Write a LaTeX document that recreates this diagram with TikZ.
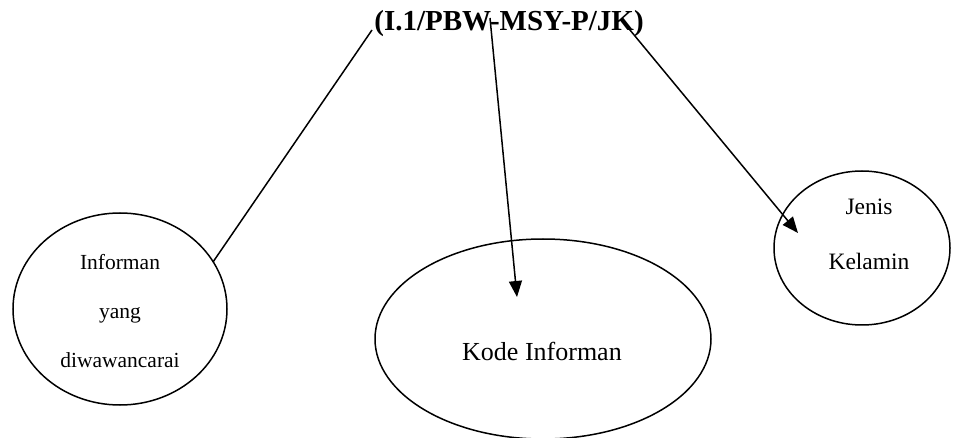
\documentclass[tikz,border=0pt]{standalone}
\usepackage{fontspec}
\setmainfont{Liberation Serif}
\usetikzlibrary{arrows.meta,shapes.geometric}
\begin{document}
\begin{tikzpicture}[x=1pt,y=-1pt,
  bubble/.style={draw,ellipse,line width=1.5pt,inner sep=0pt},
  link/.style={line width=1.5pt},
  pointer/.style={line width=1.5pt,-{Triangle[length=16pt,width=13pt]}}]
\useasboundingbox (0,0) rectangle (959,438);

% code label
\node[font=\fontsize{29}{34}\selectfont\bfseries] (code) at (509,24) {(I.1/PBW-MSY-P/JK)};

% ellipses
\node[bubble,minimum width=214pt,minimum height=192pt] (inf) at (120,309) {};
\node[bubble,minimum width=336pt,minimum height=200pt] (kode) at (543,339) {};
\node[bubble,minimum width=176pt,minimum height=154pt] (jk) at (862,248) {};

% ellipse texts
\node[align=center,font=\fontsize{21.5}{49}\selectfont] (inftext) at (120,311)
  {Informan\\yang\\diwawancarai};
\node[font=\fontsize{26}{30}\selectfont] (kodetext) at (542,351) {Kode Informan};
\node[align=center,font=\fontsize{23.5}{55}\selectfont] (jktext) at (869,234)
  {Jenis\\Kelamin};

% connector end points
\coordinate (sL) at (372,30);
\coordinate (sM) at (490,18);
\coordinate (sR) at (625,24);
\coordinate (eL) at (213,262);
\coordinate (eM) at (517,297);
\coordinate (eR) at (798,233);

\draw[link] (sL) -- (eL);
\draw[pointer] (sM) -- (eM);
\draw[pointer] (sR) -- (eR);
\end{tikzpicture}
\end{document}
